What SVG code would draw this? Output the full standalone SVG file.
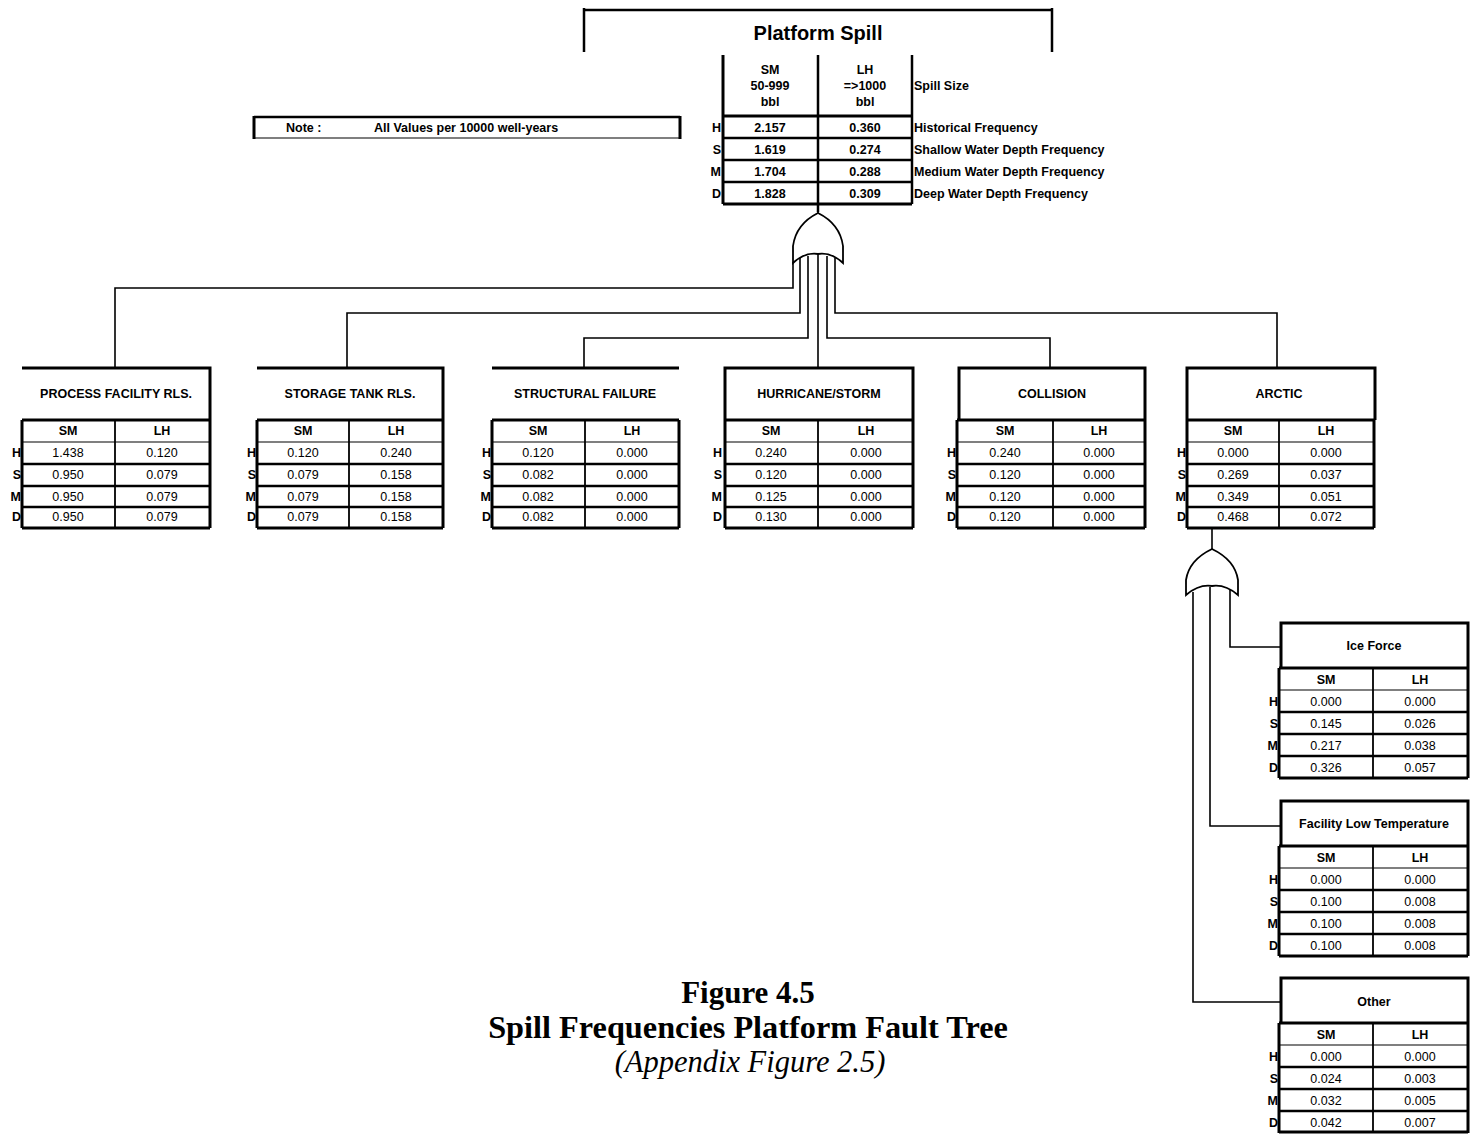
<svg xmlns="http://www.w3.org/2000/svg" width="1474" height="1134" viewBox="0 0 1474 1134">
<style>
text{font-family:"Liberation Sans",Arial,sans-serif;font-size:12.5px;fill:#000}
.b{font-weight:bold}
.c{text-anchor:middle}
.e{text-anchor:end}
.k3{stroke:#000;stroke-width:3;fill:none}
.k2{stroke:#000;stroke-width:2.5;fill:none}
.k15{stroke:#000;stroke-width:1.8;fill:none}
.k1{stroke:#000;stroke-width:1.2;fill:none}
.cn{stroke:#000;stroke-width:1.6;fill:none}
.gate{stroke:#000;stroke-width:1.8;fill:#fff}
.cap{font-family:"Liberation Serif","Times New Roman",serif;font-size:31px;font-weight:bold;text-anchor:middle}
.capi{font-family:"Liberation Serif","Times New Roman",serif;font-size:30.5px;font-style:italic;text-anchor:middle}
</style>
<rect width="1474" height="1134" fill="#fff"/>

<g id="connectors">
<path class="cn" d="M818,204 V214"/>
<path class="cn" d="M793,262 V288 H115 V368"/>
<path class="cn" d="M800,258 V313 H347 V368"/>
<path class="cn" d="M808,256 V338 H584 V368"/>
<path class="cn" d="M818,254 V368"/>
<path class="cn" d="M827,256 V338 H1050 V368"/>
<path class="cn" d="M835,258 V313 H1277 V368"/>
<path class="cn" d="M1212,528 V549"/>
<path class="cn" d="M1193,592 V1002 H1281"/>
<path class="cn" d="M1210,587 V826 H1281"/>
<path class="cn" d="M1230,590 V647 H1281"/>
</g>

<g id="gate-top">
<path class="gate" d="M818,213 Q796,224 793,246 L793,263 Q805,252 818,254 Q831,252 843,263 L843,246 Q840,224 818,213 Z"/>
</g>
<g id="gate-arctic">
<path class="gate" d="M1212,549 Q1189,560 1186,580 L1186,595 Q1199,584 1212,586 Q1225,584 1238,595 L1238,580 Q1235,560 1212,549 Z"/>
</g>

<g id="node-platform-spill">
<path class="k2" d="M584,10 H1052 M584,8 V52 M1052,8 V52"/>
<text class="b c" x="818" y="40" style="font-size:20px">Platform Spill</text>
<path class="k3" d="M723,55 V204"/>
<path class="k2" d="M818,55 V212 M912,55 V204"/>
<path class="k3" d="M723,116 H912"/>
<path class="k2" d="M723,138 H912 M723,160 H912 M723,182 H912"/>
<path class="k3" d="M723,204 H912"/>
<text class="b c" x="770" y="73.5">SM</text>
<text class="b c" x="770" y="89.5">50-999</text>
<text class="b c" x="770" y="105.5">bbl</text>
<text class="b c" x="865" y="73.5">LH</text>
<text class="b c" x="865" y="89.5">=&gt;1000</text>
<text class="b c" x="865" y="105.5">bbl</text>
<text class="b" x="914" y="90">Spill Size</text>
<text class="b e" x="721" y="131.5">H</text>
<text class="b e" x="721" y="153.5">S</text>
<text class="b e" x="721" y="175.5">M</text>
<text class="b e" x="721" y="197.5">D</text>
<text class="b c" x="770" y="131.5">2.157</text>
<text class="b c" x="865" y="131.5">0.360</text>
<text class="b c" x="770" y="153.5">1.619</text>
<text class="b c" x="865" y="153.5">0.274</text>
<text class="b c" x="770" y="175.5">1.704</text>
<text class="b c" x="865" y="175.5">0.288</text>
<text class="b c" x="770" y="197.5">1.828</text>
<text class="b c" x="865" y="197.5">0.309</text>
<text class="b" x="914" y="131.5">Historical Frequency</text>
<text class="b" x="914" y="153.5">Shallow Water Depth Frequency</text>
<text class="b" x="914" y="175.5">Medium Water Depth Frequency</text>
<text class="b" x="914" y="197.5">Deep Water Depth Frequency</text>
</g>

<g id="note">
<path class="k2" d="M254,117 H680"/>
<path class="k1" d="M254,138 H680"/>
<path class="k3" d="M254,116 V139 M680,116 V139"/>
<text class="b" x="286" y="132">Note :</text>
<text class="b" x="374" y="132">All Values per 10000 well-years</text>
</g>

<g id="node-process">
<path class="k3" d="M22,368 H210 V420"/>
<path class="k3" d="M22,420 H210 M22,420 V528 M210,420 V528 M22,528 H210"/>
<path class="k1" d="M22,442 H210"/>
<path class="k2" d="M22,464 H210 M22,486 H210 M22,507 H210"/>
<path class="k15" d="M115,420 V528"/>
<text class="b c" x="116" y="398">PROCESS FACILITY RLS.</text>
<text class="b c" x="68" y="435">SM</text><text class="b c" x="162" y="435">LH</text>
<text class="b e" x="21" y="457">H</text><text class="b e" x="21" y="479">S</text><text class="b e" x="21" y="501">M</text><text class="b e" x="21" y="521">D</text>
<text class="c" x="68" y="457">1.438</text><text class="c" x="162" y="457">0.120</text>
<text class="c" x="68" y="479">0.950</text><text class="c" x="162" y="479">0.079</text>
<text class="c" x="68" y="501">0.950</text><text class="c" x="162" y="501">0.079</text>
<text class="c" x="68" y="521">0.950</text><text class="c" x="162" y="521">0.079</text>
</g>

<g id="node-storage">
<path class="k3" d="M257,368 H443 V420"/>
<path class="k3" d="M257,420 H443 M257,420 V528 M443,420 V528 M257,528 H443"/>
<path class="k1" d="M257,442 H443"/>
<path class="k2" d="M257,464 H443 M257,486 H443 M257,507 H443"/>
<path class="k15" d="M349,420 V528"/>
<text class="b c" x="350" y="398">STORAGE TANK RLS.</text>
<text class="b c" x="303" y="435">SM</text><text class="b c" x="396" y="435">LH</text>
<text class="b e" x="256" y="457">H</text><text class="b e" x="256" y="479">S</text><text class="b e" x="256" y="501">M</text><text class="b e" x="256" y="521">D</text>
<text class="c" x="303" y="457">0.120</text><text class="c" x="396" y="457">0.240</text>
<text class="c" x="303" y="479">0.079</text><text class="c" x="396" y="479">0.158</text>
<text class="c" x="303" y="501">0.079</text><text class="c" x="396" y="501">0.158</text>
<text class="c" x="303" y="521">0.079</text><text class="c" x="396" y="521">0.158</text>
</g>

<g id="node-structural">
<path class="k3" d="M492,368 H679"/>
<path class="k3" d="M492,420 H679 M492,420 V528 M679,420 V528 M492,528 H679"/>
<path class="k1" d="M492,442 H679"/>
<path class="k2" d="M492,464 H679 M492,486 H679 M492,507 H679"/>
<path class="k15" d="M585,420 V528"/>
<text class="b c" x="585" y="398">STRUCTURAL FAILURE</text>
<text class="b c" x="538" y="435">SM</text><text class="b c" x="632" y="435">LH</text>
<text class="b e" x="491" y="457">H</text><text class="b e" x="491" y="479">S</text><text class="b e" x="491" y="501">M</text><text class="b e" x="491" y="521">D</text>
<text class="c" x="538" y="457">0.120</text><text class="c" x="632" y="457">0.000</text>
<text class="c" x="538" y="479">0.082</text><text class="c" x="632" y="479">0.000</text>
<text class="c" x="538" y="501">0.082</text><text class="c" x="632" y="501">0.000</text>
<text class="c" x="538" y="521">0.082</text><text class="c" x="632" y="521">0.000</text>
</g>

<g id="node-hurricane">
<path class="k3" d="M725,420 V368 H913 V420"/>
<path class="k3" d="M725,420 H913 M725,420 V528 M913,420 V528 M725,528 H913"/>
<path class="k1" d="M725,442 H913"/>
<path class="k2" d="M725,464 H913 M725,486 H913 M725,507 H913"/>
<path class="k15" d="M818,420 V528"/>
<text class="b c" x="819" y="398">HURRICANE/STORM</text>
<text class="b c" x="771" y="435">SM</text><text class="b c" x="866" y="435">LH</text>
<text class="b e" x="722" y="457">H</text><text class="b e" x="722" y="479">S</text><text class="b e" x="722" y="501">M</text><text class="b e" x="722" y="521">D</text>
<text class="c" x="771" y="457">0.240</text><text class="c" x="866" y="457">0.000</text>
<text class="c" x="771" y="479">0.120</text><text class="c" x="866" y="479">0.000</text>
<text class="c" x="771" y="501">0.125</text><text class="c" x="866" y="501">0.000</text>
<text class="c" x="771" y="521">0.130</text><text class="c" x="866" y="521">0.000</text>
</g>

<g id="node-collision">
<path class="k3" d="M959,420 V368 H1145 V420"/>
<path class="k3" d="M957,420 H1145 M957,420 V528 M1145,420 V528 M957,528 H1145"/>
<path class="k1" d="M957,442 H1145"/>
<path class="k2" d="M957,464 H1145 M957,486 H1145 M957,507 H1145"/>
<path class="k15" d="M1053,420 V528"/>
<text class="b c" x="1052" y="398">COLLISION</text>
<text class="b c" x="1005" y="435">SM</text><text class="b c" x="1099" y="435">LH</text>
<text class="b e" x="956" y="457">H</text><text class="b e" x="956" y="479">S</text><text class="b e" x="956" y="501">M</text><text class="b e" x="956" y="521">D</text>
<text class="c" x="1005" y="457">0.240</text><text class="c" x="1099" y="457">0.000</text>
<text class="c" x="1005" y="479">0.120</text><text class="c" x="1099" y="479">0.000</text>
<text class="c" x="1005" y="501">0.120</text><text class="c" x="1099" y="501">0.000</text>
<text class="c" x="1005" y="521">0.120</text><text class="c" x="1099" y="521">0.000</text>
</g>

<g id="node-arctic">
<path class="k3" d="M1187,420 V368 H1375 V420"/>
<path class="k3" d="M1187,420 H1374 M1187,420 V528 M1374,420 V528 M1187,528 H1374"/>
<path class="k1" d="M1187,442 H1374"/>
<path class="k2" d="M1187,464 H1374 M1187,486 H1374 M1187,507 H1374"/>
<path class="k15" d="M1279,420 V528"/>
<text class="b c" x="1279" y="398">ARCTIC</text>
<text class="b c" x="1233" y="435">SM</text><text class="b c" x="1326" y="435">LH</text>
<text class="b e" x="1186" y="457">H</text><text class="b e" x="1186" y="479">S</text><text class="b e" x="1186" y="501">M</text><text class="b e" x="1186" y="521">D</text>
<text class="c" x="1233" y="457">0.000</text><text class="c" x="1326" y="457">0.000</text>
<text class="c" x="1233" y="479">0.269</text><text class="c" x="1326" y="479">0.037</text>
<text class="c" x="1233" y="501">0.349</text><text class="c" x="1326" y="501">0.051</text>
<text class="c" x="1233" y="521">0.468</text><text class="c" x="1326" y="521">0.072</text>
</g>

<g id="node-ice-force">
<path class="k3" d="M1281,668 V623 H1468 V668"/>
<path class="k3" d="M1279,668 H1468 M1279,668 V778 M1468,668 V778 M1279,778 H1468"/>
<path class="k1" d="M1279,690 H1468"/>
<path class="k2" d="M1279,712 H1468 M1279,734 H1468 M1279,756 H1468"/>
<path class="k15" d="M1373,668 V778"/>
<text class="b c" x="1374" y="650">Ice Force</text>
<text class="b c" x="1326" y="683.5">SM</text><text class="b c" x="1420" y="683.5">LH</text>
<text class="b e" x="1278" y="705.5">H</text><text class="b e" x="1278" y="727.5">S</text><text class="b e" x="1278" y="749.5">M</text><text class="b e" x="1278" y="771.5">D</text>
<text class="c" x="1326" y="705.5">0.000</text><text class="c" x="1420" y="705.5">0.000</text>
<text class="c" x="1326" y="727.5">0.145</text><text class="c" x="1420" y="727.5">0.026</text>
<text class="c" x="1326" y="749.5">0.217</text><text class="c" x="1420" y="749.5">0.038</text>
<text class="c" x="1326" y="771.5">0.326</text><text class="c" x="1420" y="771.5">0.057</text>
</g>

<g id="node-low-temp">
<path class="k3" d="M1281,846 V801 H1468 V846"/>
<path class="k3" d="M1279,846 H1468 M1279,846 V956 M1468,846 V956 M1279,956 H1468"/>
<path class="k1" d="M1279,868 H1468"/>
<path class="k2" d="M1279,890 H1468 M1279,912 H1468 M1279,934 H1468"/>
<path class="k15" d="M1373,846 V956"/>
<text class="b c" x="1374" y="828">Facility Low Temperature</text>
<text class="b c" x="1326" y="861.5">SM</text><text class="b c" x="1420" y="861.5">LH</text>
<text class="b e" x="1278" y="883.5">H</text><text class="b e" x="1278" y="905.5">S</text><text class="b e" x="1278" y="927.5">M</text><text class="b e" x="1278" y="949.5">D</text>
<text class="c" x="1326" y="883.5">0.000</text><text class="c" x="1420" y="883.5">0.000</text>
<text class="c" x="1326" y="905.5">0.100</text><text class="c" x="1420" y="905.5">0.008</text>
<text class="c" x="1326" y="927.5">0.100</text><text class="c" x="1420" y="927.5">0.008</text>
<text class="c" x="1326" y="949.5">0.100</text><text class="c" x="1420" y="949.5">0.008</text>
</g>

<g id="node-other">
<path class="k3" d="M1281,1023 V978 H1468 V1023"/>
<path class="k3" d="M1279,1023 H1468 M1279,1023 V1133 M1468,1023 V1133 M1279,1132 H1468"/>
<path class="k1" d="M1279,1045 H1468"/>
<path class="k2" d="M1279,1067 H1468 M1279,1089 H1468 M1279,1111 H1468"/>
<path class="k15" d="M1373,1023 V1133"/>
<text class="b c" x="1374" y="1005.5">Other</text>
<text class="b c" x="1326" y="1039">SM</text><text class="b c" x="1420" y="1039">LH</text>
<text class="b e" x="1278" y="1061">H</text><text class="b e" x="1278" y="1083">S</text><text class="b e" x="1278" y="1105">M</text><text class="b e" x="1278" y="1127">D</text>
<text class="c" x="1326" y="1061">0.000</text><text class="c" x="1420" y="1061">0.000</text>
<text class="c" x="1326" y="1083">0.024</text><text class="c" x="1420" y="1083">0.003</text>
<text class="c" x="1326" y="1105">0.032</text><text class="c" x="1420" y="1105">0.005</text>
<text class="c" x="1326" y="1127">0.042</text><text class="c" x="1420" y="1127">0.007</text>
</g>

<g id="caption">
<text class="cap" x="748" y="1003">Figure 4.5</text>
<text class="cap" x="748" y="1038" style="font-size:32.3px">Spill Frequencies Platform Fault Tree</text>
<text class="capi" x="750" y="1072">(Appendix Figure 2.5)</text>
</g>
</svg>
